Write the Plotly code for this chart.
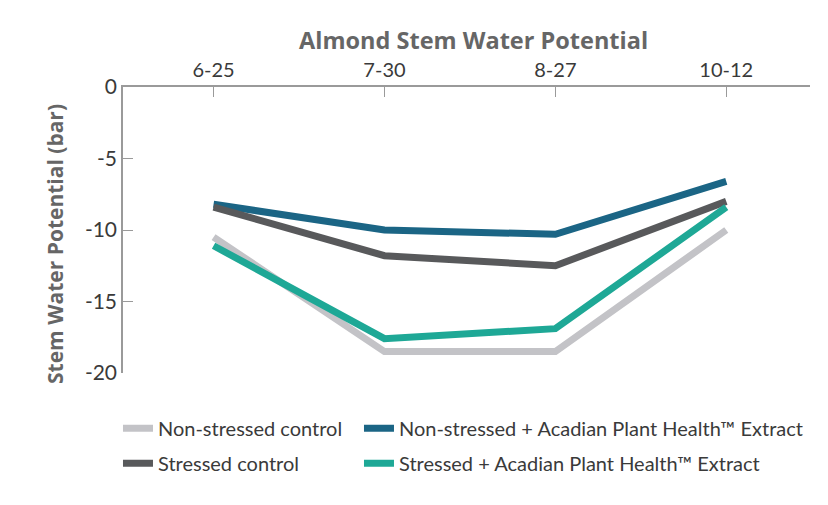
import plotly.graph_objects as go

dates = ["6-25", "7-30", "8-27", "10-12"]
y_ticks = [0, -5, -10, -15, -20]
y_tick_labels = ["0", "-5", "-10", "-15", "-20"]
non_stressed_control = [-10.5, -18.5, -18.5, -10.0]
non_stressed_extract = [-8.2, -10.0, -10.3, -6.6]
stressed_control = [-8.4, -11.8, -12.5, -8.0]
stressed_extract = [-11.1, -17.6, -16.9, -8.4]

series = [
    ("Non-stressed control", non_stressed_control, "#c3c3c7", "legend"),
    ("Non-stressed + Acadian Plant Health™ Extract", non_stressed_extract, "#1b6585", "legend2"),
    ("Stressed control", stressed_control, "#58595b", "legend3"),
    ("Stressed + Acadian Plant Health™ Extract", stressed_extract, "#1ea896", "legend4"),
]

fig = go.Figure()
for name, vals, color, lg in series:
    fig.add_trace(go.Scatter(
        x=list(range(len(dates))), y=vals, name=name, mode="lines",
        line=dict(color=color, width=7), legend=lg,
    ))

FONT = "Lato"
TITLE_FONT = "Open Sans"
leg_font = dict(size=20, color="#3a3a3a", family=FONT)
col1_x, col2_x = -0.0073, 0.3435
row1_y, row2_y = -0.125, -0.247

fig.add_annotation(
    text="<b>Stem Water Potential (bar)</b>", textangle=-90,
    xref="paper", yref="paper", x=-0.098, y=0.45, xanchor="center", yanchor="middle",
    showarrow=False, font=dict(size=21, color="#666666", family=TITLE_FONT),
)

fig.update_layout(
    width=828, height=505,
    margin=dict(l=123, r=18, t=87, b=132),
    plot_bgcolor="white", paper_bgcolor="white",
    font=dict(family=FONT, color="#3a3a3a"),
    title=dict(text="<b>Almond Stem Water Potential</b>", x=0.572, xanchor="center",
               y=0.92, yanchor="middle", font=dict(size=23.5, color="#666666", family=TITLE_FONT)),
    xaxis=dict(
        side="top", tickmode="array", tickvals=list(range(len(dates))), ticktext=dates,
        range=[-0.53, 3.49], showline=True, linecolor="#9a9a9a", linewidth=1.5,
        ticks="inside", ticklen=10, tickcolor="#9a9a9a", showgrid=False, zeroline=False,
        tickfont=dict(size=20, color="#3a3a3a"),
    ),
    yaxis=dict(
        range=[-20, 0], tickmode="array", tickvals=y_ticks, ticktext=y_tick_labels,
        showline=True, linecolor="#9a9a9a", linewidth=1.5, ticks="inside", ticklen=10,
        tickcolor="#9a9a9a", showgrid=False, zeroline=False,
        tickfont=dict(size=21, color="#3a3a3a"),
    ),
    legend=dict(x=col1_x, xanchor="left", y=row1_y, yanchor="top", font=leg_font),
    legend2=dict(x=col2_x, xanchor="left", y=row1_y, yanchor="top", font=leg_font),
    legend3=dict(x=col1_x, xanchor="left", y=row2_y, yanchor="top", font=leg_font),
    legend4=dict(x=col2_x, xanchor="left", y=row2_y, yanchor="top", font=leg_font),
    showlegend=True,
)

fig.write_html("out.html")
